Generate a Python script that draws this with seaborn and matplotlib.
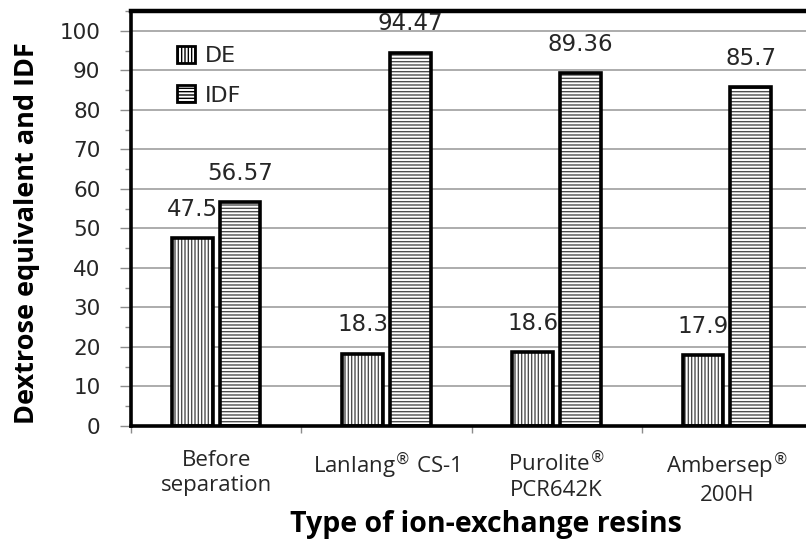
import matplotlib
matplotlib.use("Agg")
import matplotlib.pyplot as plt
import pandas as pd
import seaborn as sns
from matplotlib.patches import Patch, Rectangle
from matplotlib.ticker import MultipleLocator, FixedLocator

# Resin types and measured values
resins = ["Before\nseparation", "Lanlang$^{®}$ CS-1", "Purolite$^{®}$\nPCR642K",
          "Ambersep$^{®}$\n200H"]
series = ["DE", "IDF"]
de_values = [47.5, 18.3, 18.6, 17.9]
idf_values = [56.57, 94.47, 89.36, 85.7]
y_ticks = [0, 10, 20, 30, 40, 50, 60, 70, 80, 90, 100]

df = pd.DataFrame({
    "resin": resins * 2,
    "value": de_values + idf_values,
    "series": ["DE"] * len(resins) + ["IDF"] * len(resins),
})

sns.set_theme(style="white")
plt.rcParams["font.family"] = ["DejaVu Sans"]
plt.rcParams["hatch.linewidth"] = 1.0

HATCH = {"DE": "|" * 5, "IDF": "-" * 5}
HATCH_GREY = "#4d4d4d"
TEXT = "#262626"
LABEL_FONT = ["Open Sans", "DejaVu Sans"]

fig = plt.figure(figsize=(8.06, 5.40), dpi=100)
ax = fig.add_axes([131 / 806, 114 / 540, 681 / 806, 415 / 540])

sns.barplot(
    data=df, x="resin", y="value", hue="series",
    order=resins, hue_order=series,
    palette=["white", "white"], saturation=1,
    width=0.56, gap=0.143,
    edgecolor=HATCH_GREY, linewidth=0,
    legend=False, ax=ax,
)

# hatch each bar in grey, then outline it in black and label its value
values = {"DE": de_values, "IDF": idf_values}
for patch in list(ax.patches):
    cx = patch.get_x() + patch.get_width() / 2
    idx = int(round(cx))
    name = "DE" if cx < idx else "IDF"
    patch.set_hatch(HATCH[name])
    patch.set_edgecolor(HATCH_GREY)
    ax.add_patch(Rectangle((patch.get_x(), patch.get_y()), patch.get_width(),
                           patch.get_height(), fill=False, edgecolor="black",
                           linewidth=2.6, zorder=patch.get_zorder() + 0.1))
    v = values[name][idx]
    ax.annotate(f"{v:g}", (cx, v), xytext=(0, 16), textcoords="offset points",
                ha="center", va="baseline", fontsize=16.5, color=TEXT)

ax.set_xlim(-0.5, 3.5)
ax.set_ylim(0, 105)

ax.yaxis.set_major_locator(FixedLocator(y_ticks))
ax.yaxis.set_minor_locator(MultipleLocator(5))
ax.yaxis.grid(True, which="major", color="#a6a6a6", linewidth=1.3)
ax.set_axisbelow(True)

ax.xaxis.set_minor_locator(FixedLocator([-0.5, 0.5, 1.5, 2.5, 3.5]))
ax.tick_params(axis="y", which="major", left=True, direction="out", length=8,
               width=1, color="#8c8c8c", pad=14, labelsize=15.5, labelcolor=TEXT)
ax.tick_params(axis="y", which="minor", left=True, direction="out", length=4,
               width=1, color="#8c8c8c")
ax.tick_params(axis="x", which="major", length=0, pad=17, labelsize=16, labelcolor=TEXT)
ax.tick_params(axis="x", which="minor", bottom=True, direction="out", length=5,
               width=1, color="#8c8c8c")
for lab in ax.get_xticklabels():
    lab.set_family(LABEL_FONT)
    lab.set_linespacing(1.25)

for side in ["left", "bottom", "top"]:
    ax.spines[side].set_visible(True)
    ax.spines[side].set_color("black")
    ax.spines[side].set_linewidth(2.6)
ax.spines["top"].set_linewidth(3.2)
ax.spines["right"].set_visible(False)

ax.set_xlabel("Type of ion-exchange resins", fontsize=20.5, fontweight="bold",
              family=LABEL_FONT, color="black")
ax.xaxis.label.set_va("baseline")
ax.xaxis.set_label_coords(0.521, -0.255)
ax.set_ylabel("Dextrose equivalent and IDF", fontsize=19.5, fontweight="bold",
              family=LABEL_FONT, color="black")
ax.yaxis.label.set_va("center")
ax.yaxis.set_label_coords(-0.152, 0.465)

handles = [Patch(facecolor="white", edgecolor="black", hatch=HATCH[s], linewidth=2.0)
           for s in series]
ax.legend(handles, series, loc="upper left", bbox_to_anchor=(0.0675, 0.915),
          frameon=False, fontsize=16, handlelength=0.8, handleheight=0.8,
          labelspacing=0.85, handletextpad=0.45, borderaxespad=0, borderpad=0,
          labelcolor=TEXT)

fig.savefig("out.png", dpi=100, facecolor="white")
